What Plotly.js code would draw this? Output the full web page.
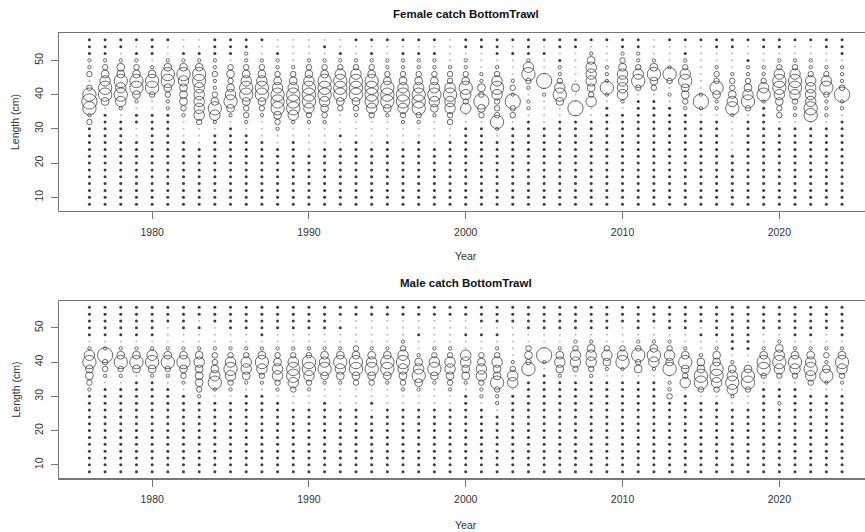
<!DOCTYPE html>
<html><head><meta charset="utf-8">
<script src="https://cdn.plot.ly/plotly-3.0.1.min.js"></script>
<style>html,body{margin:0;padding:0;background:#fff}#chart{width:865px;height:532px}</style>
</head><body><div id="chart"></div>
<script>
const years = [1976,1977,1978,1979,1980,1981,1982,1983,1984,1985,1986,1987,1988,1989,1990,1991,1992,1993,1994,1995,1996,1997,1998,1999,2000,2001,2002,2003,2004,2005,2006,2007,2008,2009,2010,2011,2012,2013,2014,2015,2016,2017,2018,2019,2020,2021,2022,2023,2024];
const lengthBins = [56,54,52,50,48,46,44,42,40,38,36,34,32,30,28,26,24,22,20,18,16,14,12,10,8];
const xTickVals = [1980,1990,2000,2010,2020];
const yTickVals = [10,20,30,40,50];

// proportions by year (rows) and length bin (columns, 56 cm down to 8 cm)
const femaleProps = [
[0,0,0,.008,.008,.022,.002,.022,.13,.17,.13,.008,.022, 0,0,0,0,0,0,0,0,0,0,0,0],
[0,0,0,.008,.022,.045,.08,.13,.13,.045,.002,0,0, 0,0,0,0,0,0,0,0,0,0,0,0],
[0,0,.002,.008,.045,.045,.13,.08,.13,.08,.008,.002,0, 0,0,0,0,0,0,0,0,0,0,0,0],
[0,.002,0,.008,.022,.045,.13,.13,.045,.008,.002,0,0, .002,.002,0,0,0,0,0,0,0,0,0,0],
[0,0,0,.002,.008,.045,.13,.13,.022,.002,.002,0,0, 0,0,0,0,0,0,0,0,0,0,0,0],
[0,.002,.002,.008,.045,.13,.13,.045,.022,.008,.008,0,0, 0,0,0,0,0,0,0,0,0,0,0,0],
[.002,.002,0,.008,.045,.13,.08,.045,.045,.045,.022,.008,.002, .002,.002,0,0,0,0,0,0,0,0,0,0],
[.002,.002,0,.008,.045,.13,.13,.08,.08,.08,.08,.08,.022, .002,.002,.002,0,0,0,0,0,0,0,0,0],
[0,0,0,.008,.008,.022,.008,.008,.022,.045,.13,.08,.008, .002,0,0,0,0,0,0,0,0,0,0,0],
[0,0,0,.002,.022,.045,.022,.045,.08,.13,.045,.008,.002, 0,0,0,0,0,0,0,0,0,0,0,0],
[0,0,.008,.008,.022,.045,.08,.13,.13,.045,.022,.022,.008, .002,0,0,0,0,0,0,0,0,0,0,0],
[0,.002,.002,.008,.022,.045,.08,.13,.13,.045,.022,.008,.002, .002,.002,0,0,0,0,0,0,0,0,0,0],
[.002,.002,0,.008,.008,.022,.045,.08,.13,.13,.13,.045,.022, .008,.002,.002,0,0,0,0,0,0,0,0,0],
[.002,.002,.002,.002,.008,.022,.045,.08,.13,.13,.13,.08,.008, .002,.002,0,0,0,0,0,0,0,0,0,0],
[.002,.002,.002,.008,.022,.045,.08,.13,.13,.13,.08,.022,.008, .002,.002,.002,.002,0,0,0,0,0,0,0,0],
[.002,0,.002,.008,.022,.045,.13,.13,.13,.08,.045,.022,.008, .002,.002,.002,0,0,0,0,0,0,0,0,0],
[.002,.002,0,.008,.022,.08,.13,.13,.13,.045,.022,.002,.002, .002,0,.002,0,0,0,0,0,0,0,0,0],
[0,.002,.002,.008,.022,.08,.13,.13,.13,.045,.022,.008,.002, .002,.002,0,0,0,0,0,0,0,0,0,0],
[0,.002,0,.008,.022,.045,.13,.13,.13,.13,.08,.022,.002, .002,.002,.002,0,0,0,0,0,0,0,0,0],
[0,.002,.002,.008,.008,.022,.045,.13,.13,.13,.045,.008,.002, .002,.002,0,0,0,0,0,0,0,0,0,0],
[0,.002,0,.008,.008,.022,.045,.08,.13,.13,.08,.022,.008, .002,.002,.002,0,0,0,0,0,0,0,0,0],
[0,.002,0,.008,.008,.022,.045,.08,.13,.13,.13,.022,.008, .002,.002,0,0,0,0,0,0,0,0,0,0],
[0,.002,0,.008,.008,.022,.045,.08,.13,.08,.045,.008,.002, .002,.002,.002,0,0,0,0,0,0,0,0,0],
[.002,.002,.002,.002,.008,.022,.022,.08,.13,.08,.08,.022,.022, .002,.002,0,0,0,0,0,0,0,0,0,0],
[0,0,.002,.008,.008,.022,.045,.13,.08,.022,.08,.002,.002, 0,0,0,0,0,0,0,0,0,0,0,0],
[0,0,.002,.002,.002,.008,.008,.045,.022,.17,.045,.022,.002, 0,0,0,0,0,0,0,0,0,0,0,0],
[0,0,0,.002,.008,.022,.08,.13,.08,.022,.022,.022,.13, .008,.002,0,0,0,0,0,0,0,0,0,0],
[0,.002,0,.002,.002,.002,.008,.022,.008,.17,.022,.022,.002, 0,0,0,0,0,0,0,0,0,0,0,0],
[0,0,0,.008,.08,.13,.022,.008,.002,.008,.008,.002,0, 0,0,0,0,0,0,0,0,0,0,0,0],
[0,.002,0,.002,.002,.002,.17,.002,.008,.002,.002,.002,.002, 0,0,0,0,0,0,0,0,0,0,0,0],
[0,0,.002,0,.008,.008,.022,.08,.13,.045,.002,.002,0, 0,0,0,0,0,0,0,0,0,0,0,0],
[0,0,.002,.002,.002,.002,.002,.045,.002,.002,.17,.002,0, 0,0,0,0,0,0,0,0,0,0,0,0],
[0,.002,.008,.045,.08,.08,.08,.045,.022,.08,.002,.002,0, 0,0,0,0,0,0,0,0,0,0,0,0],
[0,.002,.002,.002,.008,.008,.008,.13,.008,.002,0,0,0, 0,0,0,0,0,0,0,0,0,0,0,0],
[0,0,.008,.022,.045,.08,.08,.08,.08,.008,.002,0,0, 0,0,0,0,0,0,0,0,0,0,0,0],
[0,0,.008,.008,.022,.08,.13,.022,.002,0,0,0,0, 0,0,0,0,0,0,0,0,0,0,0,0],
[.002,.002,.002,.008,.045,.13,.045,.022,.002,0,0,0,0, 0,0,0,0,0,0,0,0,0,0,0,0],
[0,.002,.002,.002,.008,.13,.022,.002,.008,.002,0,0,0, 0,0,0,0,0,0,0,0,0,0,0,0],
[0,.002,0,.008,.022,.08,.13,.045,.045,.022,.008,0,0, 0,0,0,0,0,0,0,0,0,0,0,0],
[0,.002,.002,.002,.002,.002,.002,.002,.008,.17,.008,.002,0, 0,0,0,0,0,0,0,0,0,0,0,0],
[0,0,.002,.002,.008,.022,.022,.13,.045,.008,.008,.002,0, 0,0,0,0,0,0,0,0,0,0,0,0],
[0,0,.002,.002,.002,.008,.022,.022,.045,.08,.13,.008,.002, .002,.002,.002,.002,0,0,0,0,0,0,0,0],
[0,.002,.002,0,.008,.008,.022,.045,.08,.13,.022,.002,0, 0,0,0,0,0,0,0,0,0,0,0,0],
[0,0,.002,.002,.008,.008,.022,.08,.13,.008,0,0,0, 0,0,0,0,0,0,0,0,0,0,0,0],
[0,0,.002,.008,.022,.08,.13,.13,.08,.045,.022,.022,.002, 0,0,0,0,0,0,0,0,0,0,0,0],
[0,.002,.002,.008,.022,.08,.13,.13,.08,.022,.008,.008,.002, 0,0,0,0,0,0,0,0,0,0,0,0],
[0,.002,.002,.008,.008,.022,.08,.08,.08,.08,.13,.13,.002, 0,0,0,0,0,0,0,0,0,0,0,0],
[0,0,.002,.002,.008,.022,.08,.13,.022,.008,.008,.008,.002, 0,0,0,0,0,0,0,0,0,0,0,0],
[0,0,0,.002,.008,.008,.008,.022,.17,.008,.008,.002,0, 0,0,0,0,0,0,0,0,0,0,0,0]
];

const maleProps = [
[0,0,0,0,0,.002,.008,.08,.13,.045,.045,.022,.008, 0,0,0,0,0,0,0,0,0,0,0,0],
[0,0,0,0,0,.002,.008,.17,.022,.022,.008,.002,0, 0,0,0,0,0,0,0,0,0,0,0,0],
[0,0,0,0,0,.002,.008,.045,.13,.022,.008,.002,0, 0,0,0,0,0,0,0,0,0,0,0,0],
[0,0,0,0,0,.002,.008,.045,.13,.045,.002,0,0, 0,0,0,0,0,0,0,0,0,0,0,0],
[0,0,0,0,0,.002,.008,.08,.13,.045,.008,0,0, 0,0,0,0,0,0,0,0,0,0,0,0],
[0,0,0,.002,.002,.002,.008,.045,.13,.022,.008,.002,0, 0,0,0,0,0,0,0,0,0,0,0,0],
[0,0,0,0,.002,.002,.008,.045,.13,.045,.022,.008,.002, 0,0,0,0,0,0,0,0,0,0,0,0],
[0,0,.002,0,.002,.002,.008,.045,.08,.045,.045,.045,.022, .008,0,0,0,0,0,0,0,0,0,0,0],
[0,0,0,.002,.002,.002,.008,.022,.022,.045,.08,.13,.008, .002,0,0,0,0,0,0,0,0,0,0,0],
[0,0,0,0,.002,.002,.008,.022,.08,.13,.08,.022,.008, .002,0,0,0,0,0,0,0,0,0,0,0],
[0,0,0,0,.002,.002,.008,.022,.08,.08,.045,.008,.002, 0,0,0,0,0,0,0,0,0,0,0,0],
[0,0,0,0,0,.002,.008,.045,.13,.08,.022,.008,.002, 0,0,0,0,0,0,0,0,0,0,0,0],
[0,0,0,0,.002,.002,.008,.022,.045,.08,.08,.022,.008, .002,0,0,0,0,0,0,0,0,0,0,0],
[0,0,0,0,.002,.002,.008,.022,.08,.13,.13,.08,.022, .002,.002,0,0,0,0,0,0,0,0,0,0],
[0,0,0,0,.002,.002,.008,.022,.13,.13,.08,.022,.008, .002,.002,0,0,0,0,0,0,0,0,0,0],
[0,0,0,0,.002,.002,.008,.045,.08,.13,.045,.008,.002, .002,0,0,0,0,0,0,0,0,0,0,0],
[0,0,.002,0,.002,.002,.008,.045,.13,.08,.045,.008,.002, .002,.002,0,0,0,0,0,0,0,0,0,0],
[0,0,.002,.002,.002,.002,.022,.045,.13,.13,.045,.022,.002, .002,.002,0,0,0,0,0,0,0,0,0,0],
[0,0,.002,.002,.002,.002,.008,.045,.08,.13,.045,.022,.002, .002,0,.002,0,0,0,0,0,0,0,0,0],
[0,0,.002,.002,.002,.002,.008,.045,.13,.13,.045,.008,.002, .002,.002,0,0,0,0,0,0,0,0,0,0],
[0,0,.002,.002,.002,.008,.022,.08,.13,.08,.045,.022,.008, .002,.002,0,0,0,0,0,0,0,0,0,0],
[0,0,.002,.002,0,.002,.002,.008,.045,.08,.13,.045,.008, .002,.002,0,0,0,0,0,0,0,0,0,0],
[0,0,.002,.002,.002,.002,.008,.022,.08,.13,.045,.008,.002, .002,.002,0,0,0,0,0,0,0,0,0,0],
[0,0,.002,.002,.002,.002,.008,.022,.08,.08,.045,.022,.008, .002,.002,0,0,0,0,0,0,0,0,0,0],
[0,0,.002,.002,0,.002,.002,.08,.08,.045,.045,.008,.002, 0,0,0,0,0,0,0,0,0,0,0,0],
[0,0,0,.002,0,.002,.002,.022,.045,.08,.08,.022,.008, .008,.002,0,0,0,0,0,0,0,0,0,0],
[0,0,0,.002,0,.002,.008,.022,.08,.045,.045,.13,.022, .008,.008,.002,0,0,0,0,0,0,0,0,0],
[0,0,0,.002,.002,.002,.002,.002,.008,.022,.08,.08,.002, 0,0,0,0,0,0,0,0,0,0,0,0],
[0,0,0,0,.002,.002,.022,.045,.022,.13,.002,0,0, 0,0,0,0,0,0,0,0,0,0,0,0],
[0,0,0,0,.002,.002,.002,.17,.008,.002,0,0,0, 0,0,0,0,0,0,0,0,0,0,0,0],
[0,0,0,0,.002,.002,.008,.045,.08,.045,.008,0,0, 0,0,0,0,0,0,0,0,0,0,0,0],
[0,0,0,0,.002,.008,.022,.08,.08,.022,.002,0,0, 0,0,0,0,0,0,0,0,0,0,0,0],
[0,0,0,0,.002,.008,.045,.08,.08,.022,.008,0,0, 0,0,0,0,0,0,0,0,0,0,0,0],
[0,0,0,0,.002,.002,.022,.08,.045,.008,.002,0,0, 0,0,0,0,0,0,0,0,0,0,0,0],
[0,0,0,.002,.002,.002,.022,.08,.13,.008,.002,0,0, 0,0,0,0,0,0,0,0,0,0,0,0],
[0,0,0,0,.002,.008,.022,.13,.022,.045,.002,0,0, 0,0,0,0,0,0,0,0,0,0,0,0],
[0,0,0,.002,.002,.008,.045,.13,.08,.008,.002,0,0, 0,0,0,0,0,0,0,0,0,0,0,0],
[0,0,0,0,.002,.008,.022,.08,.045,.13,.002,.008,.008, .022,0,0,0,0,0,0,0,0,0,0,0],
[0,0,0,0,.002,.002,.008,.045,.13,.045,.022,.08,.002, 0,0,0,0,0,0,0,0,0,0,0,0],
[0,0,0,.002,0,.002,.002,.008,.045,.045,.13,.13,.022, .002,0,0,0,0,0,0,0,0,0,0,0],
[0,0,0,0,0,.002,.008,.045,.045,.13,.13,.08,.022, .002,0,0,0,0,0,0,0,0,0,0,0],
[0,0,0,0,0,0,0,.002,.008,.045,.08,.13,.08, .008,.002,0,0,0,0,0,0,0,0,0,0],
[0,0,0,0,0,0,0,.002,.002,.045,.13,.13,.022, .002,.002,0,0,0,0,0,0,0,0,0,0],
[0,0,0,0,.002,.002,.008,.045,.13,.13,.022,.002,0, 0,0,0,0,0,0,0,0,0,0,0,0],
[0,0,0,0,.002,.008,.045,.08,.13,.08,.022,.002,0, 0,.008,0,0,0,0,0,0,0,0,0,0],
[0,0,0,0,0,.002,.008,.045,.13,.08,.022,.002,0, 0,0,0,0,0,0,0,0,0,0,0,0],
[0,0,0,0,0,.002,.008,.045,.08,.13,.08,.022,.002, 0,0,0,0,0,0,0,0,0,0,0,0],
[0,0,0,0,.002,.002,.008,.022,.008,.045,.13,.008,.002, 0,0,0,0,0,0,0,0,0,0,0,0],
[0,0,0,0,0,.002,.008,.045,.13,.08,.022,.008,.002, 0,0,0,0,0,0,0,0,0,0,0,0]
];

function buildTraces(props, xa, ya) {
  const zx=[], zy=[], fx=[], fy=[], bx=[], by=[], bs=[];
  props.forEach((row, i) => row.forEach((p, j) => {
    const x = years[i], y = lengthBins[j];
    if (p === 0) { zx.push(x); zy.push(y); }
    else if (p < 0.005) { fx.push(x); fy.push(y); }
    else { bx.push(x); by.push(y); bs.push(p); }
  }));
  return [
    {type:'scatter', mode:'markers', x:zx, y:zy, xaxis:xa, yaxis:ya, hoverinfo:'skip', showlegend:false,
     marker:{symbol:'circle', size:3, color:'#3c3c3c', line:{width:0}}},
    {type:'scatter', mode:'markers', x:fx, y:fy, xaxis:xa, yaxis:ya, hoverinfo:'skip', showlegend:false,
     marker:{symbol:'circle', size:2.2, color:'#c2c2c2', line:{width:0}}},
    {type:'scatter', mode:'markers', x:bx, y:by, xaxis:xa, yaxis:ya, hoverinfo:'skip', showlegend:false,
     marker:{symbol:'circle-open', size:bs, sizemode:'area', sizeref:2/1369, color:'#2e2e2e', line:{width:1}}}
  ];
}

const W = 865, H = 532;
const fontFam = 'Liberation Sans, Arial, Helvetica, sans-serif';
const xDom = [59.3/W, 1];
const xRange = [1974.08, 1974.08 + (W-59.3)/15.68];
const yRange = [6.08, 57.92];

function xAxis(anchor) {
  return {domain:xDom, range:xRange, anchor:anchor, tickvals:xTickVals, ticktext:xTickVals.map(String),
    ticks:'outside', ticklen:7, tickwidth:1, tickcolor:'#777', ticklabelstandoff:4,
    showline:true, mirror:true, linecolor:'#777', linewidth:1.2, showgrid:false, zeroline:false,
    tickfont:{family:fontFam, size:10.5, color:'#333'}, fixedrange:true};
}
function yAxis(anchor, dom) {
  return {domain:dom, range:yRange, anchor:anchor, tickvals:yTickVals, ticktext:yTickVals.map(String),
    ticks:'outside', ticklen:7, tickwidth:1, tickcolor:'#777', tickangle:-90, ticklabelstandoff:4,
    showline:true, mirror:false, linecolor:'#777', linewidth:1.2, showgrid:false, zeroline:false,
    tickfont:{family:fontFam, size:10.5, color:'#333'}, fixedrange:true};
}

function ann(text, x, y, opts) {
  return Object.assign({text:text, x:x/W, y:1-y/H, xref:'paper', yref:'paper', showarrow:false,
    xanchor:'center', yanchor:'middle', font:{family:fontFam, size:10.5, color:'#333'}}, opts||{});
}

const data = buildTraces(femaleProps, 'x', 'y').concat(buildTraces(maleProps, 'x2', 'y2'));
const layout = {
  width:W, height:H, margin:{l:0, r:0, t:0, b:0}, paper_bgcolor:'#fff', plot_bgcolor:'#fff',
  showlegend:false,
  xaxis: xAxis('y'),
  yaxis: yAxis('x', [1-210.7/H, 1-33.3/H]),
  xaxis2: xAxis('y2'),
  yaxis2: yAxis('x2', [1-478.3/H, 1-300.7/H]),
  annotations: [
    ann('<b>Female catch BottomTrawl</b>', 465.5, 14, {font:{family:fontFam, size:11.5, color:'#111'}}),
    ann('Year', 465.5, 256),
    ann('Length (cm)', 15, 122, {textangle:-90}),
    ann('<b>Male catch BottomTrawl</b>', 465.5, 283, {font:{family:fontFam, size:11.5, color:'#111'}}),
    ann('Year', 465.5, 525),
    ann('Length (cm)', 15, 389.5, {textangle:-90})
  ]
};
Plotly.newPlot('chart', data, layout, {staticPlot:true, displayModeBar:false});
</script></body></html>
